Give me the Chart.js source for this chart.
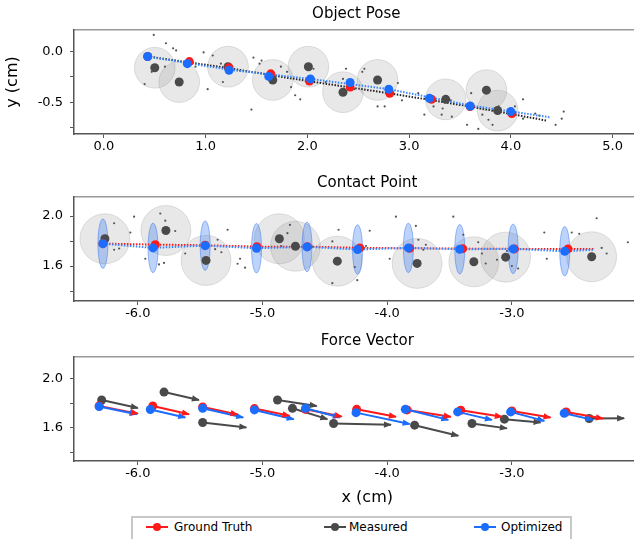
<!DOCTYPE html>
<html>
<head>
<meta charset="utf-8">
<script src="https://cdn.jsdelivr.net/npm/chart.js@4.4.1/dist/chart.umd.min.js"></script>
<style>
  body { margin: 0; width: 634px; height: 539px; overflow: hidden; background: #fff; position: relative; font-family: "DejaVu Sans", sans-serif; }
  .panel { position: absolute; left: 0; }
  #legend { position: absolute; left: 131px; top: 516px; width: 441px; height: 30px; border: 2px solid #c8c8c8; box-sizing: border-box; font-size: 12px; color: #000; }
  .item { position: absolute; top: 1px; height: 16px; line-height: 16px; white-space: nowrap; }
  .mark { position: absolute; top: 8px; width: 22px; height: 2px; }
  .mark::after { content: ''; position: absolute; left: 7px; top: -3px; width: 8px; height: 8px; border-radius: 50%; background: inherit; }
</style>
</head>
<body>
<div class="panel" style="top:0"><canvas id="pose" width="643" height="160"></canvas></div>
<div class="panel" style="top:160px"><canvas id="contact" width="665" height="160"></canvas></div>
<div class="panel" style="top:320px"><canvas id="force" width="665" height="191"></canvas></div>
<div id="legend">
  <span class="mark" style="left:13px;background:#ff1a1a"></span><span class="item" style="left:41px">Ground Truth</span>
  <span class="mark" style="left:191px;background:#4a4a4a"></span><span class="item" style="left:216px">Measured</span>
  <span class="mark" style="left:341px;background:#1a6dff"></span><span class="item" style="left:368px">Optimized</span>
</div>
<script>
const FONT = '"DejaVu Sans", sans-serif';
const RED = '#ff1a1a';
const BLUE = '#1a6dff';
const DARK = '#4a4a4a';

// ---- Object Pose ----
const poseXTicks = [0, 1, 2, 3, 4, 5];
const poseYTicks = [-0.75, -0.5, -0.25, 0];
const poseYLabeled = [-0.5, 0];
const poseTruthX = [0.43, 0.84, 1.23, 1.64, 2.02, 2.42, 2.81, 3.22, 3.60, 4.01];
const poseTruthY = [-0.05, -0.10, -0.16, -0.22, -0.29, -0.35, -0.41, -0.47, -0.54, -0.61];
const poseOptX = [0.43, 0.82, 1.23, 1.62, 2.03, 2.42, 2.80, 3.20, 3.60, 4.00];
const poseOptY = [-0.05, -0.12, -0.185, -0.245, -0.27, -0.305, -0.37, -0.46, -0.535, -0.59];
const poseMeasX = [0.50, 0.74, 1.22, 1.66, 2.01, 2.35, 2.69, 3.36, 3.76, 3.87];
const poseMeasY = [-0.16, -0.30, -0.15, -0.28, -0.15, -0.40, -0.28, -0.47, -0.38, -0.58];
const poseMeasRadius = 0.2;
const poseTruthTrackX = [0.43, 1.2, 2.0, 2.8, 3.6, 4.36];
const poseTruthTrackY = [-0.05, -0.16, -0.29, -0.41, -0.54, -0.68];
const poseOptTrackX = [0.43, 1.23, 2.03, 2.8, 3.6, 4.38];
const poseOptTrackY = [-0.05, -0.18, -0.27, -0.37, -0.53, -0.645];
const poseNoiseX = [0.49, 0.61, 0.68, 0.71, 0.40, 0.47, 0.60, 0.85, 0.90, 0.98, 1.07, 1.02, 1.15, 1.17, 1.34,
  1.45, 1.47, 1.53, 1.55, 1.74, 1.80, 1.84, 1.93, 1.88, 2.06, 2.18, 2.35, 2.38, 2.45, 2.46, 2.56, 2.54, 2.69,
  2.76, 2.71, 2.89, 2.93, 3.09, 3.15, 3.24, 3.33, 3.32, 3.41, 3.42, 3.57, 3.61, 3.68, 3.72, 3.78, 3.82, 3.88,
  3.97, 4.04, 4.12, 4.12, 4.24, 4.28, 4.44, 4.52, 4.50];
const poseNoiseY = [0.162, 0.08, 0.03, 0.01, -0.32, -0.20, -0.15, -0.08, -0.15, -0.01, -0.04, -0.37, -0.12, -0.30, -0.19,
  -0.57, -0.06, -0.12, -0.09, -0.15, -0.20, -0.35, -0.47, -0.43, -0.17, -0.30, -0.27, -0.17, -0.35, -0.37, -0.17, -0.20, -0.54,
  -0.54, -0.31, -0.31, -0.48, -0.41, -0.62, -0.54, -0.56, -0.62, -0.48, -0.64, -0.72, -0.41, -0.76, -0.62, -0.67, -0.72, -0.54,
  -0.57, -0.54, -0.47, -0.66, -0.61, -0.63, -0.72, -0.59, -0.66];

// ---- Contact Point ----
const contactXTicks = [-6, -5, -4, -3];
const contactYTicks = [1.4, 1.6, 1.8, 2.0];
const contactYLabeled = [1.6, 2.0];
const contactTruthX = [-6.28, -5.86, -5.46, -5.045, -4.64, -4.22, -3.82, -3.395, -2.98, -2.55];
const contactTruthY = [1.779, 1.771, 1.766, 1.755, 1.755, 1.745, 1.742, 1.739, 1.737, 1.737];
const contactOptX = [-6.28, -5.878, -5.46, -5.048, -4.643, -4.238, -3.83, -3.418, -2.99, -2.576];
const contactOptY = [1.779, 1.745, 1.763, 1.742, 1.753, 1.732, 1.745, 1.734, 1.737, 1.718];
const contactOptRx = 0.04;
const contactOptRy = 0.198;
const contactMeasX = [-6.264, -5.775, -5.453, -4.865, -4.736, -4.40, -3.76, -3.305, -3.05, -2.36];
const contactMeasY = [1.818, 1.884, 1.645, 1.818, 1.758, 1.639, 1.621, 1.634, 1.671, 1.674];
const contactMeasRadius = 0.2;
const contactTruthTrackX = [...contactTruthX, -2.34];
const contactTruthTrackY = [...contactTruthY, 1.735];
const contactOptTrackX = [...contactOptX, -2.34];
const contactOptTrackY = [...contactOptY, 1.73];
const contactNoiseX = [-6.19, -6.03, -6.06, -6.19, -6.15, -5.82, -5.78, -5.70, -5.83, -5.79, -5.94, -5.62, -5.28,
  -5.36, -5.18, -5.14, -5.20, -5.33, -5.38, -4.78, -4.80, -4.85, -4.60, -4.39, -4.44, -4.44, -4.26, -4.24, -4.14,
  -4.17, -3.93, -3.98, -3.75, -3.77, -3.71, -3.69, -3.47, -3.39, -3.27, -3.24, -3.21, -3.12, -2.95, -3.00, -3.04,
  -2.74, -2.72, -2.52, -2.46, -2.32, -2.28, -2.24, -2.07];
const contactNoiseY = [1.942, 1.995, 1.868, 1.73, 1.74, 2.02, 1.963, 1.88, 1.613, 1.625, 1.658, 1.70, 1.89,
  1.81, 1.658, 1.587, 1.618, 1.71, 1.735, 1.929, 1.863, 1.76, 1.755, 1.89, 1.797, 1.463, 1.592, 1.487, 1.882,
  1.76, 1.995, 1.658, 1.81, 1.921, 1.73, 1.77, 1.995, 1.85, 1.79, 1.70, 1.62, 1.65, 1.58, 1.60, 1.72,
  1.868, 1.658, 1.868, 1.858, 1.982, 1.745, 1.70, 1.79];

// ---- Force Vector ----
const forceTruthX0 = [-6.31, -5.88, -5.48, -5.065, -4.655, -4.245, -3.84, -3.41, -3.0, -2.565];
const forceTruthY0 = [1.777, 1.777, 1.769, 1.756, 1.75, 1.75, 1.745, 1.742, 1.737, 1.729];
const forceTruthX1 = [-6.0, -5.59, -5.20, -4.784, -4.365, -3.93, -3.49, -3.08, -2.69, -2.27];
const forceTruthY1 = [1.715, 1.71, 1.707, 1.697, 1.691, 1.689, 1.689, 1.689, 1.683, 1.675];
const forceOptX0 = [-6.31, -5.90, -5.48, -5.065, -4.655, -4.25, -3.855, -3.435, -3.01, -2.58];
const forceOptY0 = [1.772, 1.748, 1.758, 1.745, 1.758, 1.723, 1.75, 1.729, 1.729, 1.718];
const forceOptX1 = [-6.01, -5.62, -5.155, -4.75, -4.38, -3.82, -3.51, -3.16, -2.74, -2.35];
const forceOptY1 = [1.71, 1.683, 1.683, 1.67, 1.683, 1.63, 1.664, 1.664, 1.656, 1.664];
const forceMeasX0 = [-6.29, -5.79, -5.48, -4.88, -4.76, -4.43, -3.78, -3.32, -3.06, -2.38];
const forceMeasY0 = [1.826, 1.89, 1.643, 1.826, 1.758, 1.635, 1.621, 1.635, 1.67, 1.675];
const forceMeasX1 = [-6.0, -5.51, -5.13, -4.565, -4.48, -3.97, -3.43, -3.04, -2.77, -2.10];
const forceMeasY1 = [1.761, 1.826, 1.603, 1.777, 1.67, 1.624, 1.535, 1.595, 1.643, 1.678];

const pts = (xs, ys) => xs.map((x, i) => ({ x, y: ys[i] }));

// ellipses drawn in data units under the points
const ellipsePlugin = {
  id: 'ellipses',
  beforeDatasetsDraw(chart, args, opts) {
    const { ctx, chartArea: a, scales: { x, y } } = chart;
    ctx.save();
    ctx.beginPath();
    ctx.rect(a.left, a.top, a.right - a.left, a.bottom - a.top);
    ctx.clip();
    (opts.items || []).forEach(e => {
      const px = x.getPixelForValue(e.x), py = y.getPixelForValue(e.y);
      const rx = Math.abs(x.getPixelForValue(e.x + e.rx) - px);
      const ry = Math.abs(y.getPixelForValue(e.y + e.ry) - py);
      ctx.beginPath();
      ctx.ellipse(px, py, rx, ry, 0, 0, Math.PI * 2);
      ctx.fillStyle = e.fill;
      ctx.fill();
      ctx.lineWidth = 1;
      ctx.strokeStyle = e.stroke;
      ctx.stroke();
    });
    ctx.restore();
  }
};

// arrow heads at the end of every "arrow" dataset
const arrowPlugin = {
  id: 'arrows',
  afterDatasetsDraw(chart) {
    const ctx = chart.ctx;
    chart.data.datasets.forEach((ds, i) => {
      if (!ds.arrow) return;
      const els = chart.getDatasetMeta(i).data;
      const p0 = els[0], p1 = els[els.length - 1];
      const ang = Math.atan2(p1.y - p0.y, p1.x - p0.x);
      const len = 7, half = 3.2;
      ctx.save();
      ctx.translate(p1.x, p1.y);
      ctx.rotate(ang);
      ctx.beginPath();
      ctx.moveTo(1, 0);
      ctx.lineTo(-len, -half);
      ctx.lineTo(-len, half);
      ctx.closePath();
      ctx.fillStyle = ds.borderColor;
      ctx.fill();
      ctx.restore();
    });
  }
};

function xScale(min, max, ticks, height, title) {
  return {
    type: 'linear', min, max,
    afterBuildTicks: s => { s.ticks = ticks.map(v => ({ value: v })); },
    afterFit: s => { s.height = height; },
    ticks: { autoSkip: false, maxRotation: 0, padding: 1, color: '#000',
      font: { family: FONT, size: 13 }, callback: v => v.toFixed(1) },
    grid: { drawOnChartArea: false, tickLength: 4, tickColor: '#555', tickWidth: 1 },
    border: { color: '#555', width: 1.5 },
    title: title ? { display: true, text: title, color: '#000', font: { family: FONT, size: 16 }, padding: { top: 0, bottom: 4 } } : { display: false }
  };
}

// light top spine, as its own empty axis
function topSpine(min, max) {
  return {
    type: 'linear', axis: 'x', position: 'top', min, max,
    afterFit: s => { s.height = 0; },
    ticks: { display: false },
    grid: { display: false, drawTicks: false },
    border: { color: '#9a9a9a', width: 1.5 }
  };
}

function yScale(min, max, ticks, labeled, title) {
  return {
    type: 'linear', min, max,
    afterBuildTicks: s => { s.ticks = ticks.map(v => ({ value: v })); },
    afterFit: s => { s.width = 74; },
    ticks: { autoSkip: false, padding: 7, color: '#000', font: { family: FONT, size: 13 },
      callback: v => labeled.some(l => Math.abs(l - v) < 1e-9) ? v.toFixed(1) : '' },
    grid: { drawOnChartArea: false, tickLength: 4, tickColor: '#555', tickWidth: 1 },
    border: { color: '#555', width: 1.5 },
    title: title ? { display: true, text: title, color: '#000', font: { family: FONT, size: 16 }, padding: { top: 3, bottom: 0 } } : { display: false }
  };
}

function baseOptions(title, pad, scales, ellipses) {
  return {
    responsive: false,
    animation: false,
    layout: { padding: 0 },
    scales,
    plugins: {
      legend: { display: false },
      tooltip: { enabled: false },
      title: { display: true, text: title, fullSize: false, color: '#000',
        font: { family: FONT, size: 15, weight: 'normal' }, padding: pad },
      ellipses: { items: ellipses }
    }
  };
}

function dots(data, color, r) {
  return { data, backgroundColor: color, borderColor: color, pointRadius: r, borderWidth: 0, showLine: false };
}
function track(data, color) {
  return { data, borderColor: color, borderWidth: 2, borderDash: [1.5, 1.5], pointRadius: 0, showLine: true, fill: false };
}

// ---- chart 1 ----
const poseCircles = poseMeasX.map((x, i) => ({ x, y: poseMeasY[i], rx: poseMeasRadius, ry: poseMeasRadius,
  fill: 'rgba(140,140,140,0.2)', stroke: 'rgba(140,140,140,0.25)' }));

new Chart(document.getElementById('pose'), {
  type: 'scatter',
  data: { datasets: [
    dots(pts(poseOptX, poseOptY), BLUE, 4.5),
    dots(pts(poseTruthX, poseTruthY), RED, 4.5),
    dots(pts(poseMeasX, poseMeasY), DARK, 4.5),
    track(pts(poseOptTrackX, poseOptTrackY), '#3a86ff'),
    track(pts(poseTruthTrackX, poseTruthTrackY), '#222'),
    dots(pts(poseNoiseX, poseNoiseY), '#555', 1.1)
  ] },
  options: baseOptions('Object Pose', { top: 5, bottom: 7 }, {
    x: xScale(-0.294, 5.255, poseXTicks, 26),
    xTop: topSpine(-0.294, 5.255),
    y: yScale(-0.81, 0.21, poseYTicks, poseYLabeled, 'y (cm)')
  }, poseCircles),
  plugins: [ellipsePlugin]
});

// ---- chart 2 ----
const contactEllipses = [
  ...contactMeasX.map((x, i) => ({ x, y: contactMeasY[i], rx: contactMeasRadius, ry: contactMeasRadius,
    fill: 'rgba(140,140,140,0.2)', stroke: 'rgba(140,140,140,0.25)' })),
  ...contactOptX.map((x, i) => ({ x, y: contactOptY[i], rx: contactOptRx, ry: contactOptRy,
    fill: 'rgba(40,110,240,0.3)', stroke: 'rgba(40,110,240,0.45)' }))
];

new Chart(document.getElementById('contact'), {
  type: 'scatter',
  data: { datasets: [
    dots(pts(contactOptX, contactOptY), BLUE, 4.5),
    dots(pts(contactTruthX, contactTruthY), RED, 4.5),
    dots(pts(contactMeasX, contactMeasY), DARK, 4.5),
    track(pts(contactOptTrackX, contactOptTrackY), '#3a86ff'),
    track(pts(contactTruthTrackX, contactTruthTrackY), RED),
    dots(pts(contactNoiseX, contactNoiseY), '#555', 1.1)
  ] },
  options: baseOptions('Contact Point', { top: 14, bottom: 5 }, {
    x: xScale(-6.512, -1.808, contactXTicks, 19),
    xTop: topSpine(-6.512, -1.808),
    y: yScale(1.32, 2.152, contactYTicks, contactYLabeled)
  }, contactEllipses),
  plugins: [ellipsePlugin]
});

// ---- chart 3 ----
function arrows(x0, y0, x1, y1, color) {
  return x0.map((x, i) => ({
    data: [{ x, y: y0[i] }, { x: x1[i], y: y1[i] }],
    arrow: true, showLine: true, borderColor: color, backgroundColor: color,
    borderWidth: 2, pointRadius: [4.5, 0], pointBorderWidth: 0
  }));
}

new Chart(document.getElementById('force'), {
  type: 'scatter',
  data: { datasets: [
    ...arrows(forceOptX0, forceOptY0, forceOptX1, forceOptY1, BLUE),
    ...arrows(forceTruthX0, forceTruthY0, forceTruthX1, forceTruthY1, RED),
    ...arrows(forceMeasX0, forceMeasY0, forceMeasX1, forceMeasY1, DARK)
  ] },
  options: baseOptions('Force Vector', { top: 12, bottom: 7 }, {
    x: xScale(-6.512, -1.808, contactXTicks, 50, 'x (cm)'),
    xTop: topSpine(-6.512, -1.808),
    y: yScale(1.33, 2.175, contactYTicks, contactYLabeled)
  }, []),
  plugins: [arrowPlugin]
});
</script>
</body>
</html>
